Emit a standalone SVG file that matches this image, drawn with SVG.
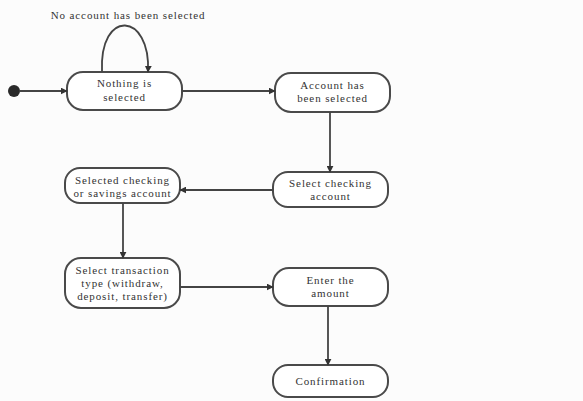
<svg xmlns="http://www.w3.org/2000/svg" width="583" height="401" viewBox="0 0 583 401">
  <style>
    .state rect { fill: #ffffff; stroke: #4a4a4a; stroke-width: 2; }
    .state text, .label { font-size: 11px; fill: #333333; text-anchor: middle; letter-spacing: 0.9px; }
    .edge { fill: none; stroke: #444444; stroke-width: 1.8; marker-end: url(#arrow); }
  </style>
  <defs>
    <marker id="arrow" viewBox="0 0 10 10" refX="9" refY="5" markerWidth="7" markerHeight="7" markerUnits="userSpaceOnUse" orient="auto">
      <path d="M0,0 L10,5 L0,10 z" fill="#333333"/>
    </marker>
  </defs>
  <rect width="583" height="401" fill="#fcfcfc"/>

  <g font-family="Liberation Serif, serif">
  <!-- initial pseudo-state -->
  <g id="start">
    <circle cx="14" cy="91" r="6" fill="#2a2a2a"/>
  </g>

  <g id="nothing-selected" class="state">
    <rect x="67" y="72" width="115" height="38" rx="16"/>
    <text x="124.5" y="87">Nothing is</text>
    <text x="124.5" y="101">selected</text>
  </g>

  <g id="account-selected" class="state">
    <rect x="275" y="73" width="115" height="39" rx="16"/>
    <text x="332.5" y="89">Account has</text>
    <text x="332.5" y="102">been selected</text>
  </g>

  <g id="select-checking" class="state">
    <rect x="273" y="172" width="115" height="35" rx="15"/>
    <text x="330.5" y="187">Select checking</text>
    <text x="330.5" y="200">account</text>
  </g>

  <g id="checking-or-savings" class="state">
    <rect x="65" y="168" width="115" height="35" rx="15"/>
    <text x="122.5" y="184">Selected checking</text>
    <text x="122.5" y="197">or savings account</text>
  </g>

  <g id="transaction-type" class="state">
    <rect x="65" y="258" width="115" height="50" rx="16"/>
    <text x="122.5" y="274">Select transaction</text>
    <text x="122.5" y="287">type (withdraw,</text>
    <text x="122.5" y="300">deposit, transfer)</text>
  </g>

  <g id="enter-amount" class="state">
    <rect x="273" y="268" width="115" height="38" rx="16"/>
    <text x="330.5" y="284">Enter the</text>
    <text x="330.5" y="297">amount</text>
  </g>

  <g id="confirmation" class="state">
    <rect x="273" y="365" width="115" height="32" rx="15"/>
    <text x="330.5" y="385">Confirmation</text>
  </g>

  <text class="label" x="128" y="19">No account has been selected</text>
  </g>

  <g id="connectors">
    <path class="edge" d="M20,91 L67,91"/>
    <path class="edge" d="M102,72 C99,8 151,12 148,72"/>
    <path class="edge" d="M182,91 L275,91"/>
    <path class="edge" d="M330,112 L330,172"/>
    <path class="edge" d="M273,190 L180,190"/>
    <path class="edge" d="M123,203 L123,258"/>
    <path class="edge" d="M180,287 L273,287"/>
    <path class="edge" d="M328,306 L328,365"/>
  </g>
</svg>
